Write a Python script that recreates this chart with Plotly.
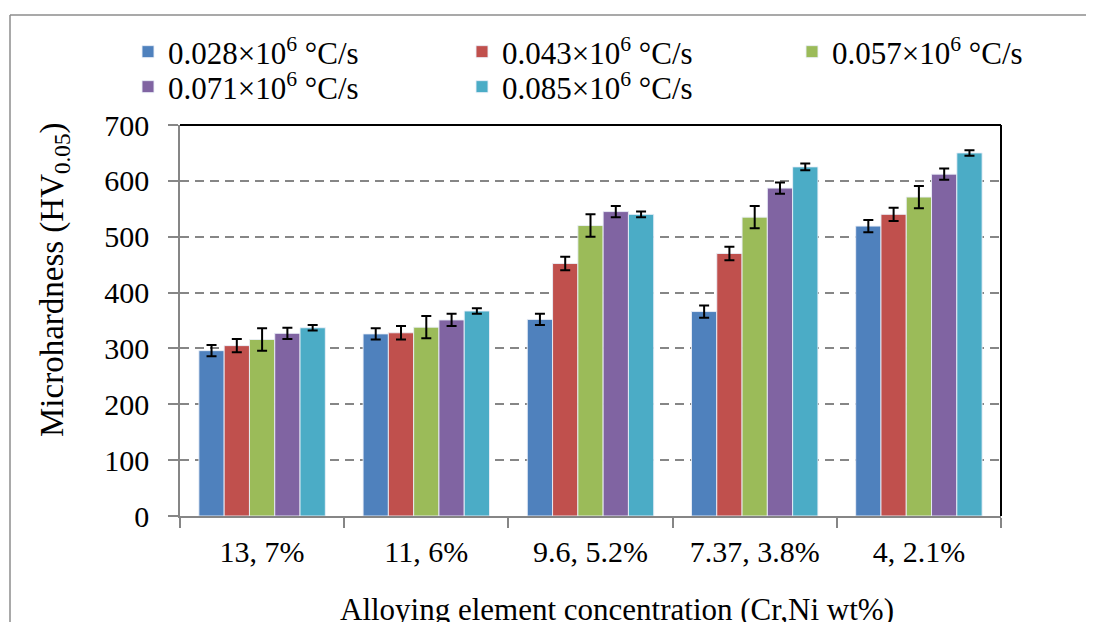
import plotly.graph_objects as go

categories = ["13, 7%", "11, 6%", "9.6, 5.2%", "7.37, 3.8%", "4, 2.1%"]
series_names = [
    "0.028×10<sup>6</sup> °C/s",
    "0.043×10<sup>6</sup> °C/s",
    "0.057×10<sup>6</sup> °C/s",
    "0.071×10<sup>6</sup> °C/s",
    "0.085×10<sup>6</sup> °C/s",
]
hv_0028 = [296, 326, 352, 366, 519]
hv_0043 = [305, 328, 452, 470, 540]
hv_0057 = [316, 338, 520, 535, 571]
hv_0071 = [327, 351, 545, 587, 612]
hv_0085 = [337, 367, 540, 625, 650]
err_0028 = [10, 10, 10, 11, 11]
err_0043 = [12, 12, 12, 12, 12]
err_0057 = [20, 20, 20, 20, 20]
err_0071 = [10, 11, 10, 10, 10]
err_0085 = [5, 5, 5, 6, 5]
y_ticks = [0, 100, 200, 300, 400, 500, 600, 700]

values = [hv_0028, hv_0043, hv_0057, hv_0071, hv_0085]
errors = [err_0028, err_0043, err_0057, err_0071, err_0085]
colors = ["#4F81BD", "#C0504D", "#9BBB59", "#8064A2", "#4BACC6"]

FONT = "Liberation Serif, Times New Roman, serif"
GREY = "#868686"

# page has an 8px body margin: figure pixel = screen pixel - 8
OFF = 8
W, H = 1094, 622
L, T = 180 - OFF, 125 - OFF
pw, ph = 821, 391
R, B = W - L - pw, H - T - ph

def px_x(x):
    return (x - OFF - L) / pw

def px_y(y):
    return (T + ph - (y - OFF)) / ph

legend_ids = ["legend", "legend2", "legend3", "legend4", "legend5"]
# screen position (left, top) of each legend entry
legend_pos = [(128, 25), (462, 25), (792, 25), (128, 60), (462, 60)]

fig = go.Figure()
for name, vals, errs, col, lid in zip(series_names, values, errors, colors, legend_ids):
    fig.add_trace(go.Bar(
        x=categories, y=vals, name=name, legend=lid,
        marker=dict(color=col, line=dict(color="rgba(235,240,248,0.9)", width=1)),
        error_y=dict(type="data", array=errs, visible=True, color="black",
                     thickness=2, width=5),
    ))

layout_legends = {}
for lid, (lx, ly) in zip(legend_ids, legend_pos):
    layout_legends[lid] = dict(
        orientation="v", x=px_x(lx), y=px_y(ly), xanchor="left", yanchor="top",
        font=dict(size=31, family=FONT), bgcolor="rgba(0,0,0,0)",
    )

fig.update_layout(
    width=W, height=H,
    margin=dict(l=L, r=R, t=T, b=B, autoexpand=False),
    paper_bgcolor="white", plot_bgcolor="white",
    barmode="group", bargap=0.23, bargroupgap=0,
    font=dict(family=FONT, color="black", size=30),
    xaxis=dict(
        showline=True, linecolor=GREY, linewidth=1.5,
        ticks="outside", ticklen=10, tickcolor=GREY, tickwidth=1.5,
        tickson="boundaries", tickfont=dict(size=30, family=FONT),
        ticklabelstandoff=8, showgrid=False,
    ),
    yaxis=dict(
        range=[0, 700], tickvals=y_ticks,
        showline=True, linecolor=GREY, linewidth=1.5,
        ticks="outside", ticklen=10, tickcolor=GREY, tickwidth=1.5,
        tickfont=dict(size=30, family=FONT), ticklabelstandoff=13,
        showgrid=True, gridcolor=GREY, gridwidth=1.5, griddash="9px,6px",
        zeroline=False,
    ),
    showlegend=True,
    **layout_legends,
)

# axis titles
fig.add_annotation(
    text="Microhardness (HV<sub>0.05</sub>)", textangle=-90,
    xref="paper", yref="paper", x=px_x(54), y=px_y(280),
    xanchor="center", yanchor="middle", showarrow=False,
    font=dict(size=33, family=FONT),
)
fig.add_annotation(
    text="Alloying element concentration (Cr,Ni wt%)",
    xref="paper", yref="paper", x=px_x(338), y=px_y(609),
    xanchor="left", yanchor="middle", showarrow=False,
    font=dict(size=31, family=FONT),
)

# plot area top/right black border
fig.add_shape(type="line", xref="paper", yref="paper", x0=0, x1=1, y0=1, y1=1,
              line=dict(color="black", width=2))
fig.add_shape(type="line", xref="paper", yref="paper", x0=1, x1=1, y0=0, y1=1,
              line=dict(color="black", width=2))
# outer chart frame
fig.add_shape(type="line", xref="paper", yref="paper", x0=px_x(10), x1=px_x(1110),
              y0=px_y(15), y1=px_y(15), line=dict(color="#8c8c8c", width=1.5))
fig.add_shape(type="line", xref="paper", yref="paper", x0=px_x(10), x1=px_x(10),
              y0=px_y(15), y1=px_y(640), line=dict(color="#8c8c8c", width=1.5))

fig.write_html("out.html")
